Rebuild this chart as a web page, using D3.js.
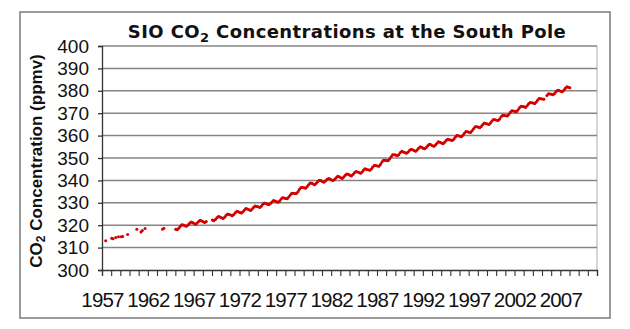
<!DOCTYPE html>
<html><head><meta charset="utf-8">
<script src="https://cdn.jsdelivr.net/npm/d3@7"></script>
<style>body{margin:0;background:#fff}</style>
</head><body>
<svg id="c" width="630" height="329"></svg>
<script>
// ---- data ----
const yTicks = [300,310,320,330,340,350,360,370,380,390,400];
const xLabelYears = [1957,1962,1967,1972,1977,1982,1987,1992,1997,2002,2007];
// sparse early flask points: decimal year, ppmv
const earlyYears  = [1957.4,1958.06,1958.2,1958.5,1958.8,1959.1,1959.25,1959.8,1960.8,1961.25,1961.4,1961.7,1963.6,1963.75];
const earlyValues = [313.1,314.2,314.0,314.5,314.8,314.8,314.9,315.8,318.2,317.0,317.6,318.5,318.2,318.6];
// continuous record, bi-monthly from Jan 1965 (null = missing)
const contStart = 1965;
const co2Values = [
318.2,318.0,318.6,319.5,320.2,320.1,
319.8,319.5,320.1,320.8,321.4,321.2,
320.8,320.4,321.0,321.7,322.2,321.9,
321.5,321.2,321.7,null,null,null,
322.3,322.0,322.6,323.3,323.9,323.7,
323.3,323.0,323.6,324.4,325.0,324.8,
324.5,324.2,324.8,325.6,326.2,326.0,
325.7,325.4,326.0,326.8,327.4,327.2,
326.9,326.6,327.2,328.0,328.6,328.4,
328.2,327.9,328.5,329.3,329.9,329.7,
329.4,329.1,329.7,330.4,331.0,330.8,
330.5,330.2,330.8,331.7,332.3,332.1,
331.9,331.8,332.6,333.5,334.3,334.3,
334.2,334.1,334.9,336.0,336.8,336.8,
336.7,336.5,337.2,338.1,338.8,338.7,
338.4,338.1,338.7,339.5,340.1,339.9,
339.5,339.2,339.7,340.4,340.9,340.6,
340.2,339.9,340.5,341.2,341.8,341.6,
341.2,340.9,341.5,342.3,342.9,342.7,
342.3,342.0,342.6,343.4,344.0,343.8,
343.5,343.2,343.7,344.6,345.2,344.9,
344.7,344.5,345.1,346.0,346.7,346.6,
346.4,346.3,347.1,348.2,349.0,349.0,
348.9,348.8,349.6,350.6,351.4,351.4,
351.3,351.0,351.5,352.4,353.0,352.7,
352.4,352.1,352.6,353.4,353.9,353.7,
353.3,353.0,353.6,354.4,355.0,354.8,
354.4,354.1,354.7,355.5,356.1,355.9,
355.5,355.2,355.8,356.6,357.2,357.0,
356.7,356.4,357.0,357.8,358.4,358.2,
358.0,357.8,358.4,359.3,360.0,359.9,
359.7,359.5,360.2,361.1,361.8,361.7,
361.5,361.4,362.2,363.1,363.9,363.9,
363.8,363.5,364.1,365.0,365.6,365.4,
365.2,365.0,365.6,366.5,367.2,367.1,
366.9,366.7,367.4,368.4,369.1,369.0,
368.9,368.7,369.4,370.4,371.1,371.0,
370.9,370.7,371.4,372.4,373.1,373.0,
372.9,372.6,373.3,374.2,374.8,374.7,
374.5,374.3,375.0,375.9,376.6,376.5,
376.3,376.2,null,377.9,378.7,378.6,
378.5,378.2,378.8,379.7,380.3,380.1,
379.8,379.6,380.3,381.1,381.8,381.6,
381.4
];

// ---- chart ----
const svg = d3.select('#c');
const m = {left:102, right:597, top:46, bottom:270};
const x = d3.scaleLinear().domain([1957, 2011]).range([m.left, m.right]);
const y = d3.scaleLinear().domain([300, 400]).range([m.bottom, m.top]);
const red = '#d40000';
const arial = '"Liberation Sans", Arial, sans-serif';

svg.append('rect').attr('x',20).attr('y',12).attr('width',590).attr('height',306)
  .attr('fill','#fff').attr('stroke','#7a7a7a').attr('stroke-width',1.5);

svg.append('line').attr('x1',m.right).attr('x2',m.right).attr('y1',m.top).attr('y2',m.bottom)
  .attr('stroke','#c8c8c8').attr('stroke-width',1.5);

// gridlines
svg.append('g').selectAll('line').data(yTicks.filter(d=>d>300)).join('line')
  .attr('x1',m.left).attr('x2',m.right).attr('y1',d=>y(d)).attr('y2',d=>y(d))
  .attr('stroke','#858585').attr('stroke-width',1.5);

// y axis
const yAxis = d3.axisLeft(y).tickValues(yTicks).tickSize(4).tickPadding(9).tickFormat(d3.format('d'));
const gy = svg.append('g').attr('transform',`translate(${m.left},0)`).call(yAxis);
gy.attr('font-family',null).attr('font-size',null);
gy.select('.domain').attr('stroke','#333').attr('stroke-width',1.3);
gy.selectAll('.tick line').attr('stroke','#333').attr('stroke-width',1.3);
gy.selectAll('.tick text').style('font-family',arial).style('font-size','19px').attr('fill','#111');

// x axis
const allYears = d3.range(1957, 2012);
const xAxis = d3.axisBottom(x).tickValues(allYears).tickSize(6)
  .tickFormat(d => xLabelYears.includes(d) ? String(d) : '').tickPadding(16);
const gx = svg.append('g').attr('transform',`translate(0,${m.bottom})`).call(xAxis);
gx.attr('font-family',null).attr('font-size',null);
gx.select('.domain').attr('stroke','#333').attr('stroke-width',1.3);
gx.selectAll('.tick line').attr('stroke','#333').attr('stroke-width',1.1);
gx.selectAll('.tick text').style('font-family',arial).style('font-size','20.5px')
  .style('letter-spacing','-0.8px').attr('fill','#111');

// data
const cont = co2Values.map((v,i)=>({t: contStart + Math.floor(i/6) + (2*(i%6)+0.5)/12, v}));
const line = d3.line().defined(d=>d.v!=null).x(d=>x(d.t)).y(d=>y(d.v));
svg.append('path').datum(cont).attr('d',line).attr('fill','none')
  .attr('stroke',red).attr('stroke-width',2);
svg.append('g').selectAll('circle').data(cont.filter(d=>d.v!=null)).join('circle')
  .attr('cx',d=>x(d.t)).attr('cy',d=>y(d.v)).attr('r',1.5).attr('fill',red);
svg.append('g').selectAll('circle').data(earlyYears.map((t,i)=>({t, v:earlyValues[i]}))).join('circle')
  .attr('cx',d=>x(d.t)).attr('cy',d=>y(d.v)).attr('r',1.5).attr('fill',red);

// title
const title = svg.append('text').attr('x',347).attr('y',38).attr('text-anchor','middle')
  .style('font-family','"DejaVu Sans", Verdana, sans-serif').style('font-weight','bold')
  .style('font-size','18px').style('letter-spacing','0.4px').attr('fill','#111');
title.append('tspan').text('SIO CO');
title.append('tspan').text('2').style('font-size','13px').attr('dy',4);
title.append('tspan').text(' Concentrations at the South Pole').attr('dy',-4);

// y axis title
const yt = svg.append('text').attr('transform','translate(41.5,161) rotate(-90)')
  .attr('text-anchor','middle').style('font-family',arial)
  .style('font-size','17px').style('font-weight','bold').attr('fill','#111');
yt.append('tspan').text('CO');
yt.append('tspan').text('2').style('font-size','12px').attr('dy',3);
yt.append('tspan').text(' Concentration (ppmv)').attr('dy',-3);
</script>
</body></html>
